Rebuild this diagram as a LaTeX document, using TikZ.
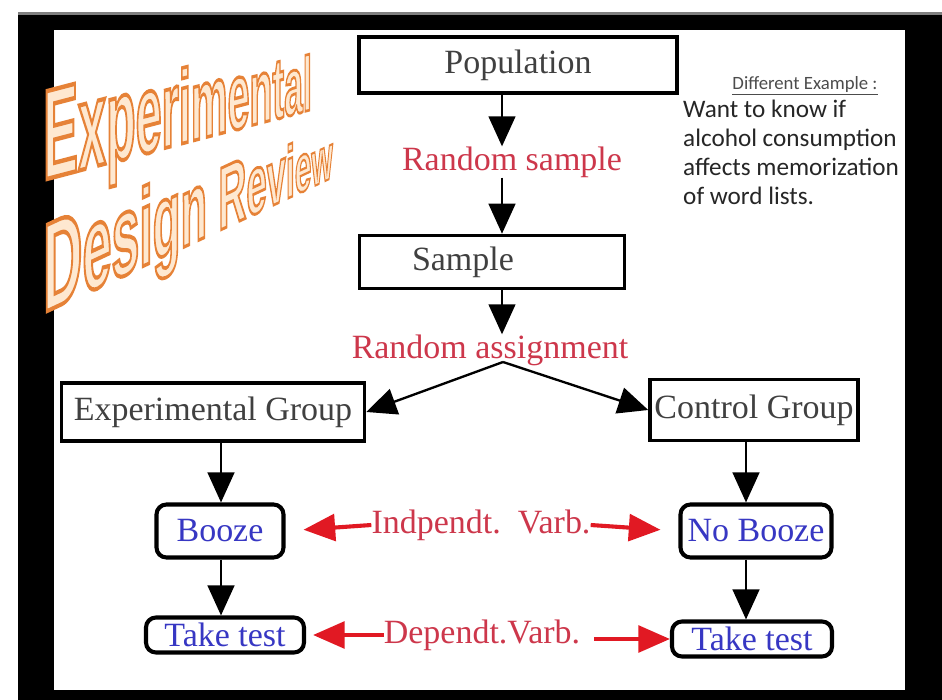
\documentclass[tikz,border=0pt]{standalone}
\usepackage{fontspec}
\setmainfont{Liberation Serif}
\setsansfont{Liberation Sans}
\newfontfamily\calibfont{Carlito}
\newfontfamily\titleedgefont{Liberation Sans}[BoldFeatures={FakeBold=3.5}]
\usepackage{tikz}
\usetikzlibrary{arrows.meta,positioning}

\definecolor{boxgray}{RGB}{64,64,64}
\definecolor{labelred}{RGB}{205,55,75}
\definecolor{arrowred}{RGB}{225,25,35}
\definecolor{varblue}{RGB}{55,55,195}
\definecolor{titlefill}{RGB}{254,232,208}
% one letter of the title, at its own size
\newcommand{\tletter}[2]{{\fontsize{#1}{#1}\selectfont #2}}
\newcommand{\titlefont}{\titleedgefont\bfseries\special{pdf:literal direct 0.902 0.51 0.216 RG}}

\begin{document}
\begin{tikzpicture}[
        x=0.03cm, y=-0.03cm,
        every node/.style={font=\fontsize{29}{31}\selectfont},
        stepbox/.style={draw, line width=3pt, fill=white, text=boxgray, inner sep=0pt},
        varbox/.style={draw, line width=3.5pt, rounded corners=0.3cm, fill=white, text=varblue, inner sep=0pt},
        redlabel/.style={text=labelred, inner sep=0pt},
        arr/.style={-{Triangle[length=0.9cm,width=0.8cm]}, line width=2pt},
        redarr/.style={-{Triangle[length=0.95cm,width=0.8cm]}, line width=3.5pt, draw=arrowred, fill=arrowred},
        titletext/.style={anchor=base west, inner sep=0pt, text=titlefill}
    ]
        \useasboundingbox (0,0) rectangle (942,700);
        % Frame
        \fill[black] (18,15) rectangle (942,700);
        \fill[gray] (18,12) rectangle (942,15);
        \fill[white] (54,30) rectangle (905,690);

        % Title
        \node[titletext, yslant=0.262, xscale=0.41] (titleA) at (43,180) {\titlefont
            \tletter{109}{E}\tletter{105}{x}\tletter{101}{p}\tletter{97}{e}\tletter{93}{r}\tletter{89}{i}%
            \tletter{86}{m}\tletter{82}{e}\tletter{78}{n}\tletter{74}{t}\tletter{70}{a}\tletter{66}{l}};
        \node[titletext, yslant=0.468, xscale=0.435] (titleB) at (43,313) {\titlefont
            \tletter{107}{D}\tletter{102.6}{e}\tletter{98.2}{s}\tletter{93.8}{i}\tletter{89.4}{g}\tletter{85}{n}%
            \tletter{80.6}{\ }\tletter{76.2}{R}\tletter{71.8}{e}\tletter{67.4}{v}\tletter{63}{i}\tletter{58.6}{e}\tletter{54}{w}};

        % Side note
        \node[inner sep=0pt, font=\calibfont\fontsize{16}{18}\selectfont, text=black!70] (exhead) at (805,86) {\underline{Different Example :}};
        \node[anchor=north west, align=left, inner sep=0pt, font=\calibfont\fontsize{21.5}{24.7}\selectfont, text=black!85] (example) at (683,100) {Want to know if\\alcohol consumption\\affects memorization\\of word lists.};

        % Sampling
        \coordinate (axis) at (502,0);
        \node[stepbox, minimum width=9.54cm, minimum height=1.68cm] (pop) at (518,65) {Population};
        \node[redlabel] (rsample) at (512,162) {Random sample};
        \node[stepbox, minimum width=7.95cm, minimum height=1.59cm, text width=4.8cm, align=left, inner xsep=1.56cm] (sample) at (492,262) {Sample};
        \node[redlabel] (rassign) at (490,350) {Random assignment};
        \coordinate (split) at (503,362);

        % Groups
        \node[stepbox, minimum width=9.09cm, minimum height=1.74cm] (expg) at (213,412) {Experimental Group};
        \node[stepbox, minimum width=6.24cm, minimum height=1.83cm] (ctrl) at (754,410) {Control Group};

        % Treatment and test
        \coordinate (lcol) at (221,0);
        \coordinate (rcol) at (746,0);
        \node[varbox, minimum width=3.81cm, minimum height=1.59cm] (booze) at (220,531) {Booze};
        \node[varbox, minimum width=4.53cm, minimum height=1.59cm] (nobooze) at (756,531) {No Booze};
        \node[varbox, minimum width=4.74cm, minimum height=1.05cm] (testA) at (225,635) {Take test};
        \node[varbox, minimum width=4.8cm, minimum height=1.05cm] (testB) at (752,639) {Take test};
        \node[redlabel] (indep) at (481,525) {Indpendt.\ \ Varb.};
        \node[redlabel] (dep) at (482,635) {Dependt.Varb.};
        \coordinate (depend) at ([xshift=0.42cm]dep.east);

        % Connect nodes
        \draw[arr] (pop.south -| axis) -- (rsample.north -| axis);
        \draw[arr] (rsample.south -| axis) -- (sample.north -| axis);
        \draw[arr] (sample.south -| axis) -- (rassign.north -| axis);
        \draw[arr] (split) -- (expg.east);
        \draw[arr] (split) -- (ctrl.west);
        \draw[arr] (expg.south -| lcol) -- (booze.north -| lcol);
        \draw[arr] (booze.south -| lcol) -- (testA.north -| lcol);
        \draw[arr] (ctrl.south -| rcol) -- (nobooze.north -| rcol);
        \draw[arr] (nobooze.south -| rcol) -- (testB.north -| rcol);
        \draw[redarr, shorten >=0.54cm] (indep.west) -- (booze.east);
        \draw[redarr, shorten >=0.54cm] (indep.east) -- (nobooze.west);
        \draw[redarr, shorten >=0.21cm] (dep.west) -- (testA.east);
        \draw[redarr] (depend |- testB.west) -- (testB.west);
    \end{tikzpicture}
\end{document}
